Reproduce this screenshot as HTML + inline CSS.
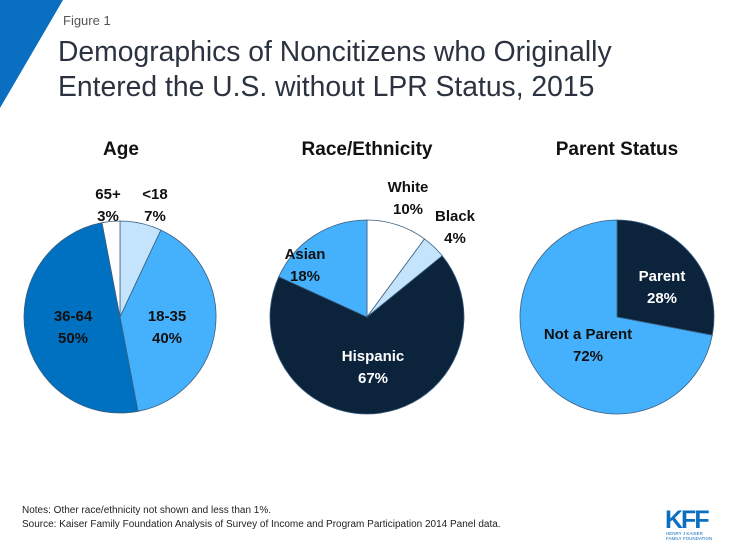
<!DOCTYPE html>
<html><head><meta charset="utf-8"><style>
body{margin:0;width:735px;height:551px;background:#fff;overflow:hidden;font-family:"Liberation Sans",sans-serif;position:relative}
.abs{position:absolute}
</style></head><body>
<svg class="abs" style="left:0;top:0" width="735" height="551">
<polygon points="0,0 63,0 0,108" fill="#0a6fc0"/>
<text x="63" y="25" font-size="13" fill="#555">Figure 1</text>
<text x="58" y="61" font-size="28.3" fill="#2c3340">Demographics of Noncitizens who Originally</text>
<text x="58" y="96" font-size="28.3" fill="#2c3340">Entered the U.S. without LPR Status, 2015</text>
<g font-family="Liberation Sans" font-weight="bold" font-size="19" fill="#111" text-anchor="middle">
<text x="121" y="155">Age</text>
<text x="367" y="155">Race/Ethnicity</text>
<text x="617" y="155">Parent Status</text>
</g>
<g id="pies"></g>
<text x="22" y="513" font-size="10" fill="#222">Notes: Other race/ethnicity not shown and less than 1%.</text>
<text x="22" y="527" font-size="10" fill="#222">Source: Kaiser Family Foundation Analysis of Survey of Income and Program Participation 2014 Panel data.</text>
<g>
<text x="665" y="528" font-size="25" font-weight="bold" fill="#0a6fc0" letter-spacing="-2">KFF</text>
<text x="666" y="535" font-size="4.5" fill="#0a6fc0">HENRY J KAISER</text>
<text x="666" y="540" font-size="4.5" fill="#0a6fc0">FAMILY FOUNDATION</text>
</g>
</svg>
<script>
const ageCats=["<18","18-35","36-64","65+"];
const ageVals=[7,40,50,3];
const raceCats=["White","Black","Hispanic","Asian"];
const raceVals=[10,4,67,18];
const parentCats=["Parent","Not a Parent"];
const parentVals=[28,72];
const NS="http://www.w3.org/2000/svg";
const g=document.getElementById('pies');
function pie(cx,cy,r,vals,cats,colors,labels,key){
  const tot=vals.reduce((a,b)=>a+b,0);let a0=0;
  vals.forEach((v,i)=>{
    const a1=a0+v/tot*2*Math.PI;
    const x0=cx+r*Math.sin(a0),y0=cy-r*Math.cos(a0),x1=cx+r*Math.sin(a1),y1=cy-r*Math.cos(a1);
    const p=document.createElementNS(NS,'path');
    p.setAttribute('d',`M${cx},${cy}L${x0},${y0}A${r},${r} 0 ${a1-a0>Math.PI?1:0} 1 ${x1},${y1}Z`);
    p.setAttribute('fill',colors[i]);p.setAttribute('stroke','#3a5f80');p.setAttribute('stroke-width','0.8');
    
    
    g.appendChild(p);
    const L=labels[i];
    [cats[i],v+'%'].forEach((t,k)=>{
      const tx=document.createElementNS(NS,'text');
      tx.setAttribute('x',L[0]);tx.setAttribute('y',L[1]+k*22);
      tx.setAttribute('text-anchor','middle');tx.setAttribute('font-weight','bold');tx.setAttribute('font-size','15');
      tx.setAttribute('fill',L[2]);tx.textContent=t;
      
      
      g.appendChild(tx);
    });
    a0=a1;
  });
}
pie(120,317,96,ageVals,ageCats,["#c4e4fd","#45b1fd","#0070c0","#ffffff"],
 [[155,199,"#111"],[167,321,"#111"],[73,321,"#111"],[108,199,"#111"]]);
pie(367,317,97,raceVals,raceCats,["#ffffff","#c4e4fd","#0b233b","#45b1fd"],
 [[408,192,"#111"],[455,221,"#111"],[373,361,"#fff"],[305,259,"#111"]]);
pie(617,317,97,parentVals,parentCats,["#0b233b","#45b1fd"],
 [[662,281,"#fff"],[588,339,"#111"]]);
</script>
</body></html>
